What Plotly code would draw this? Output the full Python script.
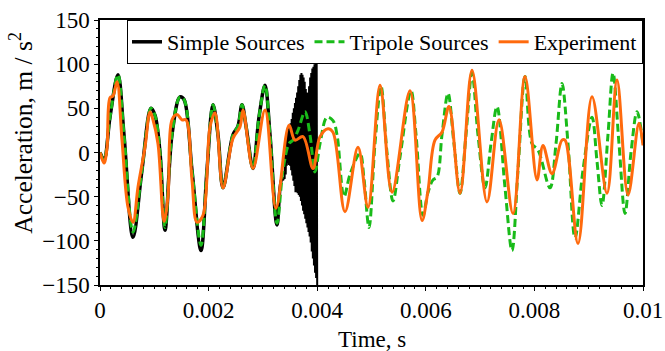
import plotly.graph_objects as go

# ---- data (time in seconds, acceleration in m/s^2) ----
t_simple = [0, 0.000074, 0.000184, 0.000331, 0.000442, 0.000608, 0.000773, 0.000939, 0.001013,
            0.001105, 0.001197, 0.001326, 0.001473, 0.001547, 0.001694, 0.00186, 0.00197, 0.002081,
            0.002173, 0.002265, 0.002449, 0.002541, 0.002615, 0.002689, 0.002818, 0.002928, 0.003039,
            0.003131, 0.00326, 0.00335]
a_simple = [0, -8, 40, 88, 20, -96, -20, 50, 42,
            0, -88, 20, 63, 60, -20, -111, -20, 54,
            20, -40, 20, 30, 54, 30, -18, 40, 76,
            20, -82, -30]

# high-frequency burst of the simple-source model just before t = 0.004 s
t_burst = [0.00340, 0.00341, 0.00342, 0.00343, 0.00344, 0.00345, 0.00346, 0.00347, 0.00348, 0.00349,
           0.00350, 0.00351, 0.00352, 0.00353, 0.00354, 0.00355, 0.00356, 0.00357, 0.00358, 0.00359,
           0.00360, 0.00361, 0.00362, 0.00363, 0.00364, 0.00365, 0.00366, 0.00367, 0.00368, 0.00369,
           0.00370, 0.00371, 0.00372, 0.00373, 0.00374, 0.00375, 0.00376, 0.00377, 0.00378, 0.00379,
           0.00380, 0.00381, 0.00382, 0.00383, 0.00384, 0.00385, 0.00386, 0.00387, 0.00388, 0.00389,
           0.00390, 0.00391, 0.00392, 0.00393, 0.00394, 0.00395, 0.00396, 0.00397, 0.00398, 0.00399,
           0.00400]
a_burst = [-30, 14, -25, 18, -15, 25, -12, 27, -14, 30,
           -15, 33, -20, 38, -26, 45, -32, 50, -38, 56,
           -45, 62, -45, 68, -46, 75, -48, 82, -50, 88,
           -55, 90, -60, 88, -66, 85, -70, 80, -75, 72,
           -80, 68, -85, 67, -90, 75, -95, 85, -102, 90,
           -112, 95, -120, 97, -128, 100, -136, 102, -142, 105,
           -150]

t_tripole = [0, 0.000074, 0.000184, 0.000331, 0.000442, 0.000608, 0.000773, 0.000939, 0.001013,
             0.001105, 0.001197, 0.001326, 0.001473, 0.001547, 0.001694, 0.00186, 0.00197, 0.002081,
             0.002173, 0.002265, 0.002449, 0.002541, 0.002615, 0.002689, 0.002818, 0.002928, 0.003039,
             0.003131, 0.00326, 0.00337, 0.003481, 0.003554, 0.003646, 0.003775, 0.003867, 0.00396,
             0.004052, 0.004181, 0.004291, 0.004365, 0.004494, 0.004604, 0.004788, 0.004862, 0.004954,
             0.005064, 0.005175, 0.005285, 0.005396, 0.005525, 0.005727, 0.00582, 0.005948, 0.006041,
             0.006133, 0.006206, 0.006298, 0.006409, 0.006519, 0.00663, 0.00674, 0.006851, 0.006961,
             0.00709, 0.007201, 0.007311, 0.007459, 0.007587, 0.007698, 0.007827, 0.007956, 0.008066,
             0.008287, 0.008398, 0.008508, 0.008619, 0.008748, 0.008895, 0.009061, 0.009153, 0.009245,
             0.009355, 0.009448, 0.009558, 0.009669, 0.009779, 0.00989, 0.01]
a_tripole = [0, -8, 40, 88, 20, -90, -20, 50, 42,
             0, -85, 20, 63, 60, -20, -105, -20, 54,
             20, -40, 20, 30, 54, 30, -18, 40, 76,
             20, -80, -20, 10, 14, 25, 46, 20, -22,
             10, 40, 36, 20, -50, -25, -1, -30, -85,
             10, 75, 0, -55, -5, 70, 20, -71, -45,
             -31, -28, 20, 67, 10, -46, 20, 90, 20,
             -40, 10, 52, -40, -111, -20, 86, 10, 3,
             -40, 10, 78, 10, -97, -20, 40, -10, -60,
             20, 90, 10, -69, 0, 46, 10]

t_exp = [0, 0.000074, 0.000129, 0.000184, 0.000239, 0.000313, 0.000405, 0.000516, 0.000608, 0.0007,
         0.000829, 0.000921, 0.000976, 0.001068, 0.001179, 0.001252, 0.001326, 0.001418, 0.00151, 0.001584,
         0.001694, 0.001786, 0.001897, 0.002026, 0.002118, 0.002265, 0.002449, 0.002578, 0.002634, 0.002818,
         0.003039, 0.003241, 0.003481, 0.003591, 0.003738, 0.003923, 0.004052, 0.004199, 0.004291, 0.004512,
         0.004751, 0.004936, 0.005157, 0.005378, 0.005709, 0.00593, 0.006041, 0.006169, 0.006298, 0.006427,
         0.00663, 0.006851, 0.007127, 0.007348, 0.007606, 0.007827, 0.008048, 0.008158, 0.008324, 0.008508,
         0.008564, 0.008803, 0.009061, 0.009337, 0.009521, 0.009724, 0.009926, 0.01]
a_exp = [0, -12, 5, 62, 64, 80, 14, -62, -79, -39,
         6, 46, 37, 10, -78, -50, 37, 43, 37, 37,
         -31, -79, -71, 29, 45, -40, 16, 29, 48, -18,
         48, -63, 31, 14, 18, -18, 18, 27, 23, -67,
         6, -62, 76, -45, 70, -77, -43, 14, 23, 52,
         -46, 93, -56, 37, -69, 86, -31, 8, -24, 14,
         14, -103, 63, -46, 82, -48, 33, 8]

x_tickvals = [0, 0.002, 0.004, 0.006, 0.008, 0.01]
x_ticktext = ["0", "0.002", "0.004", "0.006", "0.008", "0.01"]

BLACK = "#000000"
GREEN = "#19BB19"
ORANGE = "#FF6A0D"
FONT = "Liberation Serif"

fig = go.Figure()
fig.add_trace(go.Scatter(x=t_simple + [t_burst[0]], y=a_simple + [a_burst[0]], mode="lines",
                         name="Simple Sources", line=dict(color=BLACK, width=3.5, shape="spline"),
                         legendgroup="s"))
fig.add_trace(go.Scatter(x=t_burst, y=a_burst, mode="lines", showlegend=False,
                         line=dict(color=BLACK, width=2), legendgroup="s"))
fig.add_trace(go.Scatter(x=t_tripole, y=a_tripole, mode="lines", name="Tripole Sources",
                         line=dict(color=GREEN, width=3, dash="8px,4px", shape="spline")))
fig.add_trace(go.Scatter(x=t_exp, y=a_exp, mode="lines", name="Experiment",
                         line=dict(color=ORANGE, width=3, shape="spline")))

axis_common = dict(showgrid=False, zeroline=False, showline=True, linecolor="black", linewidth=1.5,
                   mirror=True, ticks="outside", ticklen=4, tickwidth=1, tickcolor="black",
                   automargin=False,
                   tickfont=dict(family=FONT, size=23, color="black"))

fig.update_xaxes(range=[0, 0.01], tickvals=x_tickvals, ticktext=x_ticktext,
                 minor=dict(dtick=0.0002, ticklen=2, ticks="outside", tickcolor="black"),
                 **axis_common)
fig.update_yaxes(range=[-150, 150], dtick=50,
                 minor=dict(dtick=10, ticklen=2, ticks="outside", tickcolor="black"),
                 **axis_common)

fig.update_layout(
    width=665, height=351,
    margin=dict(l=100, r=22, t=20, b=66, autoexpand=False),
    paper_bgcolor="white", plot_bgcolor="white",
    font=dict(family=FONT, size=23, color="black"),
    legend=dict(orientation="h", x=1, xanchor="right", y=1, yanchor="top",
                bgcolor="white", bordercolor="black", borderwidth=1,
                font=dict(family=FONT, size=22, color="black"),
                itemwidth=30, tracegroupgap=0),
    showlegend=True,
    annotations=[
        dict(text="Time, s", xref="paper", yref="paper", x=0.5, y=-0.2075,
             xanchor="center", yanchor="middle", showarrow=False,
             font=dict(family=FONT, size=23, color="black")),
        dict(text="Acceleration, m / s<sup>2</sup>", xref="paper", yref="paper",
             x=-0.1436, y=0.575, xanchor="center", yanchor="middle", textangle=-90,
             showarrow=False, font=dict(family=FONT, size=25.5, color="black")),
    ],
)

fig.write_html("out.html", config={"displayModeBar": False},
               post_script="document.body.style.margin='0px';")
